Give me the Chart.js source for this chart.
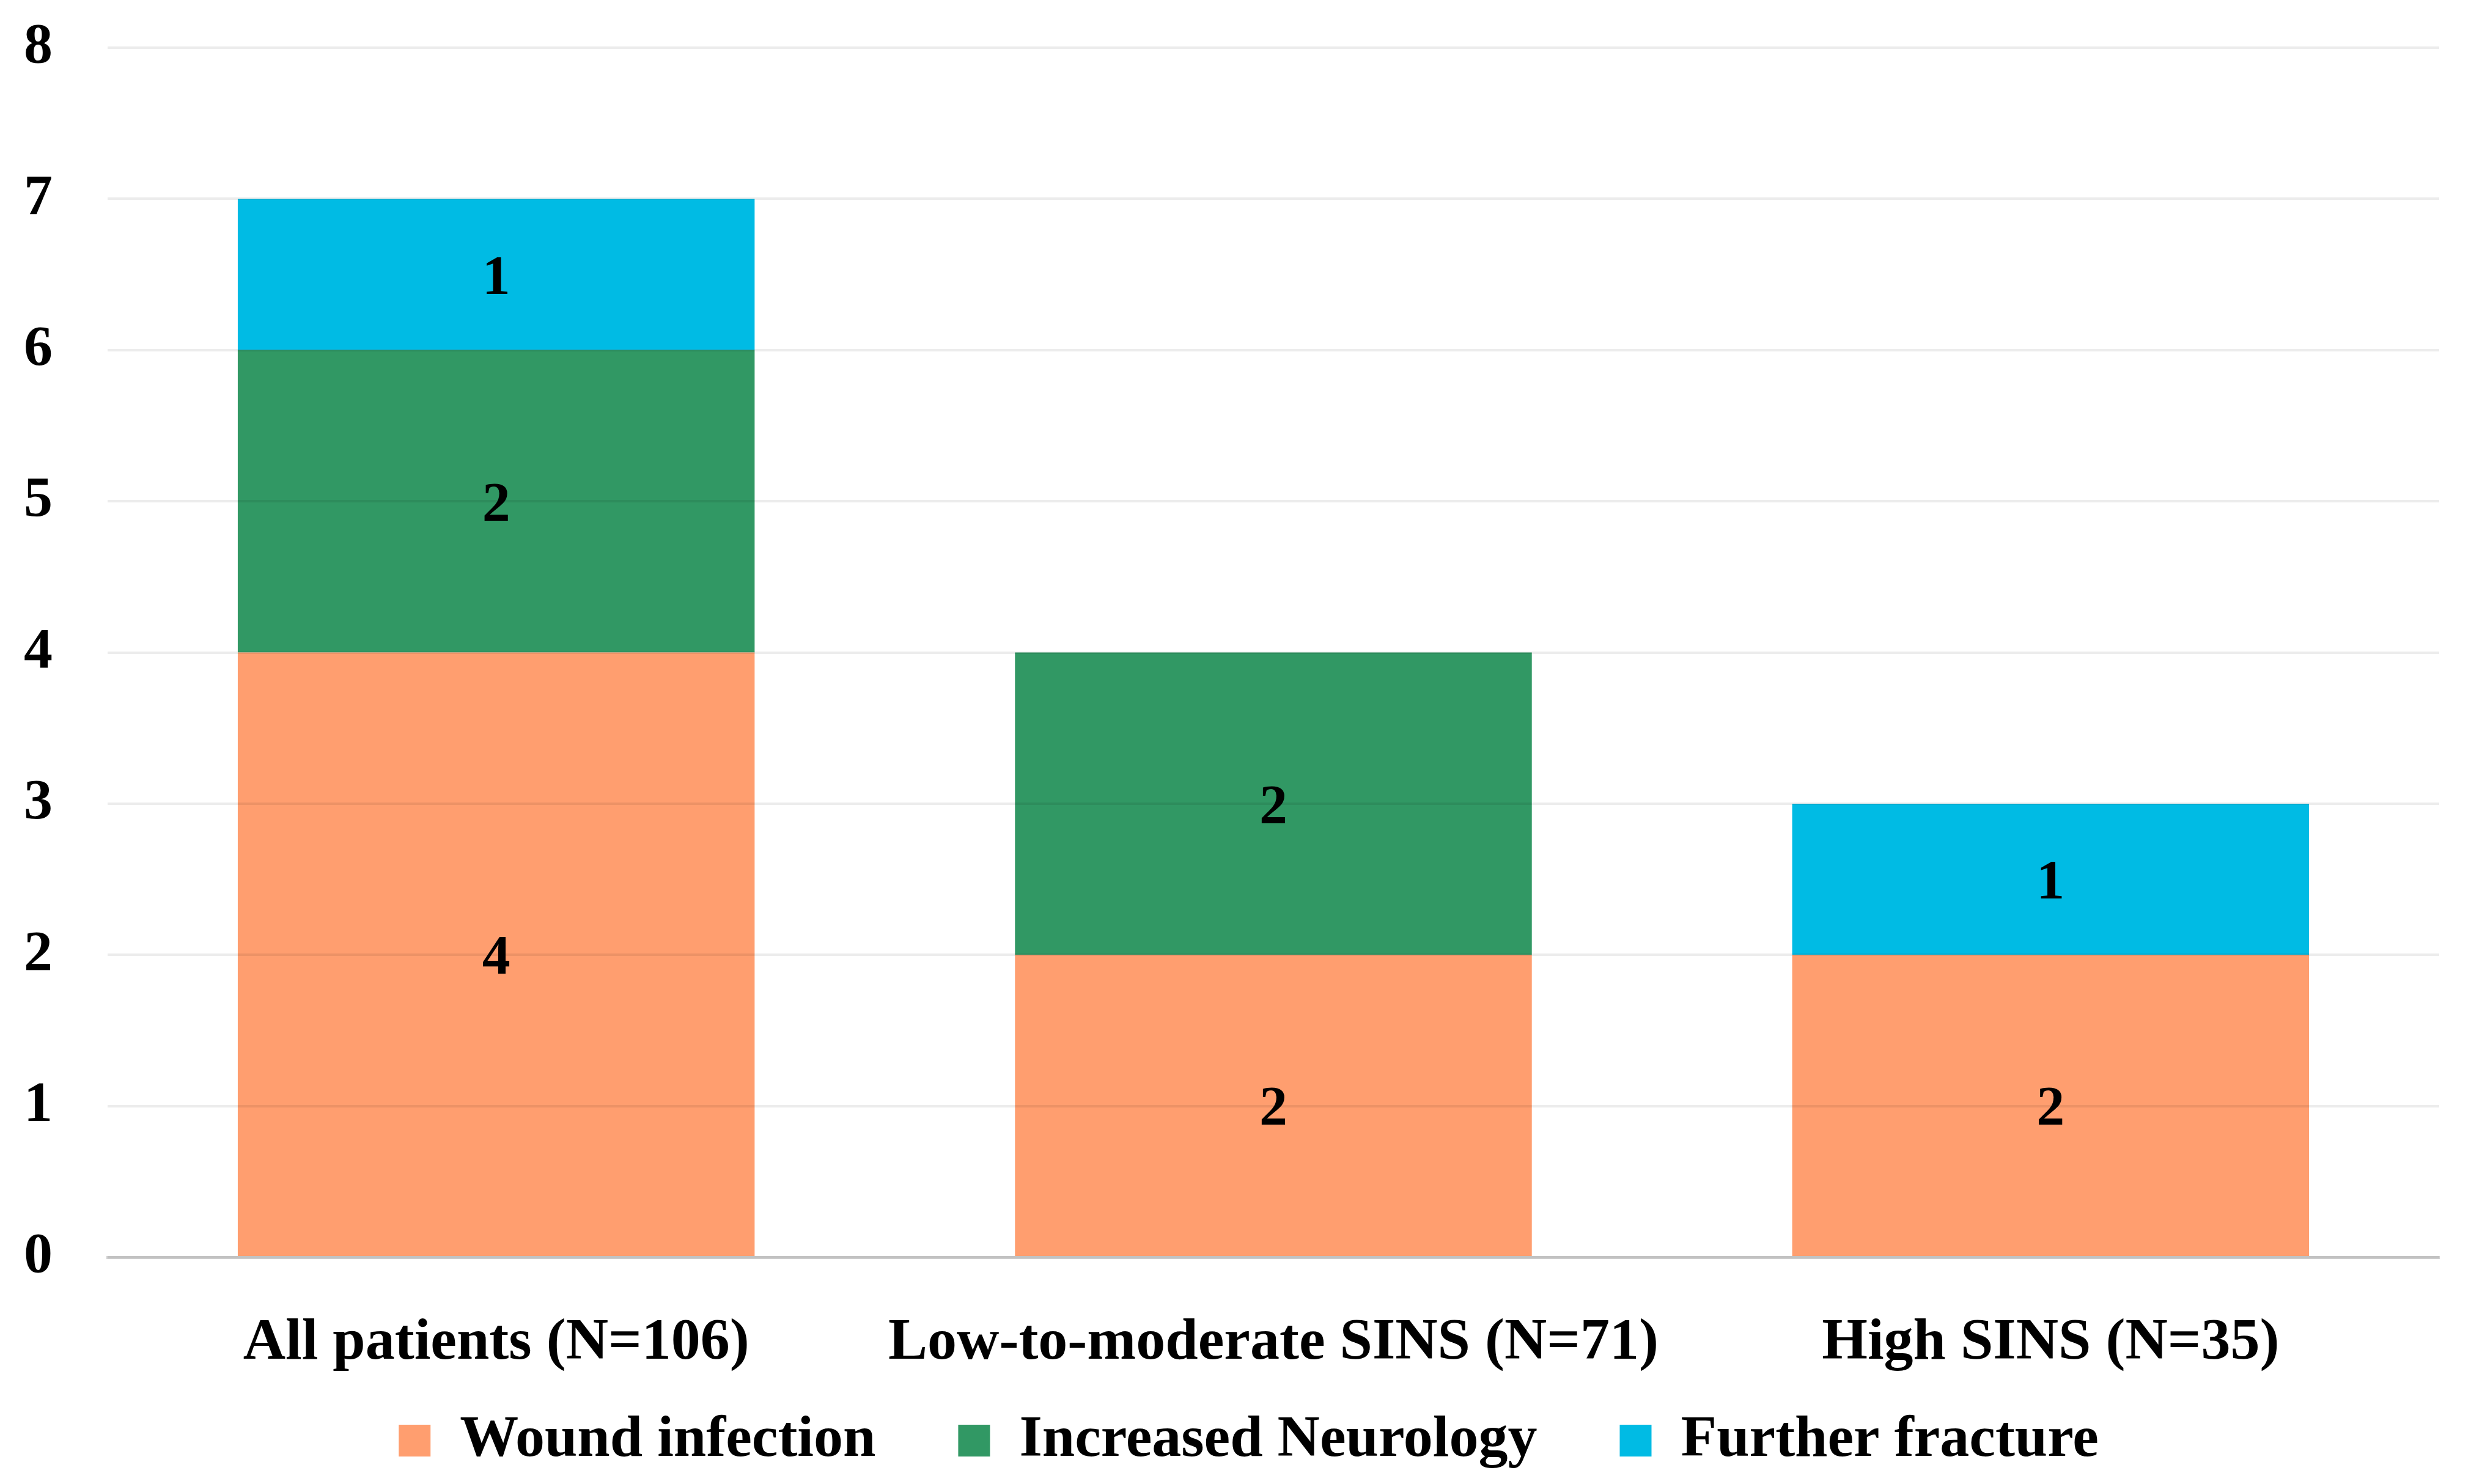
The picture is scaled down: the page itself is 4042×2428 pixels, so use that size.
<!DOCTYPE html>
<html>
<head>
<meta charset="utf-8">
<script src="https://cdn.jsdelivr.net/npm/chart.js@4"></script>
<style>
html,body{margin:0;padding:0;background:#fff;}
#wrap{width:4042px;height:2428px;}
</style>
</head>
<body>
<div id="wrap"><canvas id="c" width="4042" height="2428"></canvas></div>
<script>
const categories = ['All patients (N=106)', 'Low-to-moderate SINS (N=71)', 'High SINS (N=35)'];
const woundInfection = [4, 2, 2];
const increasedNeurology = [2, 2, 0];
const furtherFracture = [1, 0, 1];
const yTicks = [0, 1, 2, 3, 4, 5, 6, 7, 8];

const FONT = "'Palatino Linotype','Book Antiqua','Liberation Serif',serif";

const valueLabels = {
  id: 'valueLabels',
  afterLayout(chart) {
    if (chart.legend) {
      chart.legend.left += 28;
      chart.legend.right += 28;
    }
  },
  afterDatasetsDraw(chart) {
    const ctx = chart.ctx;
    ctx.save();
    ctx.font = 'bold 92px ' + FONT;
    ctx.fillStyle = '#000';
    ctx.textAlign = 'center';
    ctx.textBaseline = 'middle';
    chart.data.datasets.forEach((ds, i) => {
      const meta = chart.getDatasetMeta(i);
      meta.data.forEach((el, j) => {
        const v = ds.data[j];
        if (!v) return;
        const y = (el.y + el.base) / 2 + 8;
        ctx.fillText(String(v), el.x, y);
      });
    });
    ctx.restore();
  }
};

new Chart(document.getElementById('c'), {
  type: 'bar',
  data: {
    labels: categories,
    datasets: [
      { label: 'Wound infection', data: woundInfection, backgroundColor: 'rgb(255,158,111)', borderWidth: 0 },
      { label: 'Increased Neurology', data: increasedNeurology, backgroundColor: 'rgb(49,152,100)', borderWidth: 0 },
      { label: 'Further fracture', data: furtherFracture, backgroundColor: 'rgb(0,187,228)', borderWidth: 0 }
    ]
  },
  options: {
    responsive: false,
    devicePixelRatio: 1,
    animation: false,
    layout: { padding: { top: 78, right: 52, bottom: 13, left: 39 } },
    datasets: { bar: { categoryPercentage: 1.0, barPercentage: 0.665 } },
    scales: {
      x: {
        stacked: true,
        grid: { display: false, drawTicks: false },
        border: { display: true, color: '#D2D2D2', width: 5 },
        ticks: { color: '#000', font: { family: FONT, size: 96, weight: 'bold' }, padding: 84, maxRotation: 0 },
        afterFit(scale) {
          scale.height = 117;
          scale._computeLabelArea = function () { return undefined; };
        }
      },
      y: {
        stacked: true,
        min: 0,
        max: 8,
        afterBuildTicks(scale) { scale.ticks = yTicks.map(v => ({ value: v })); },
        grid: { color: 'rgba(0,0,0,0.075)', lineWidth: 4, drawTicks: false, z: 1 },
        border: { display: false },
        ticks: { color: '#000', font: { family: FONT, size: 94, weight: 'bold' }, padding: 0, crossAlign: 'far' },
        afterFit(scale) { scale.width = 137; }
      }
    },
    plugins: {
      legend: {
        position: 'bottom',
        labels: {
          boxWidth: 52,
          boxHeight: 52,
          padding: 135,
          color: '#000',
          font: { family: FONT, size: 96, weight: 'bold' }
        }
      },
      tooltip: { enabled: false }
    }
  },
  plugins: [valueLabels]
});
</script>
</body>
</html>
